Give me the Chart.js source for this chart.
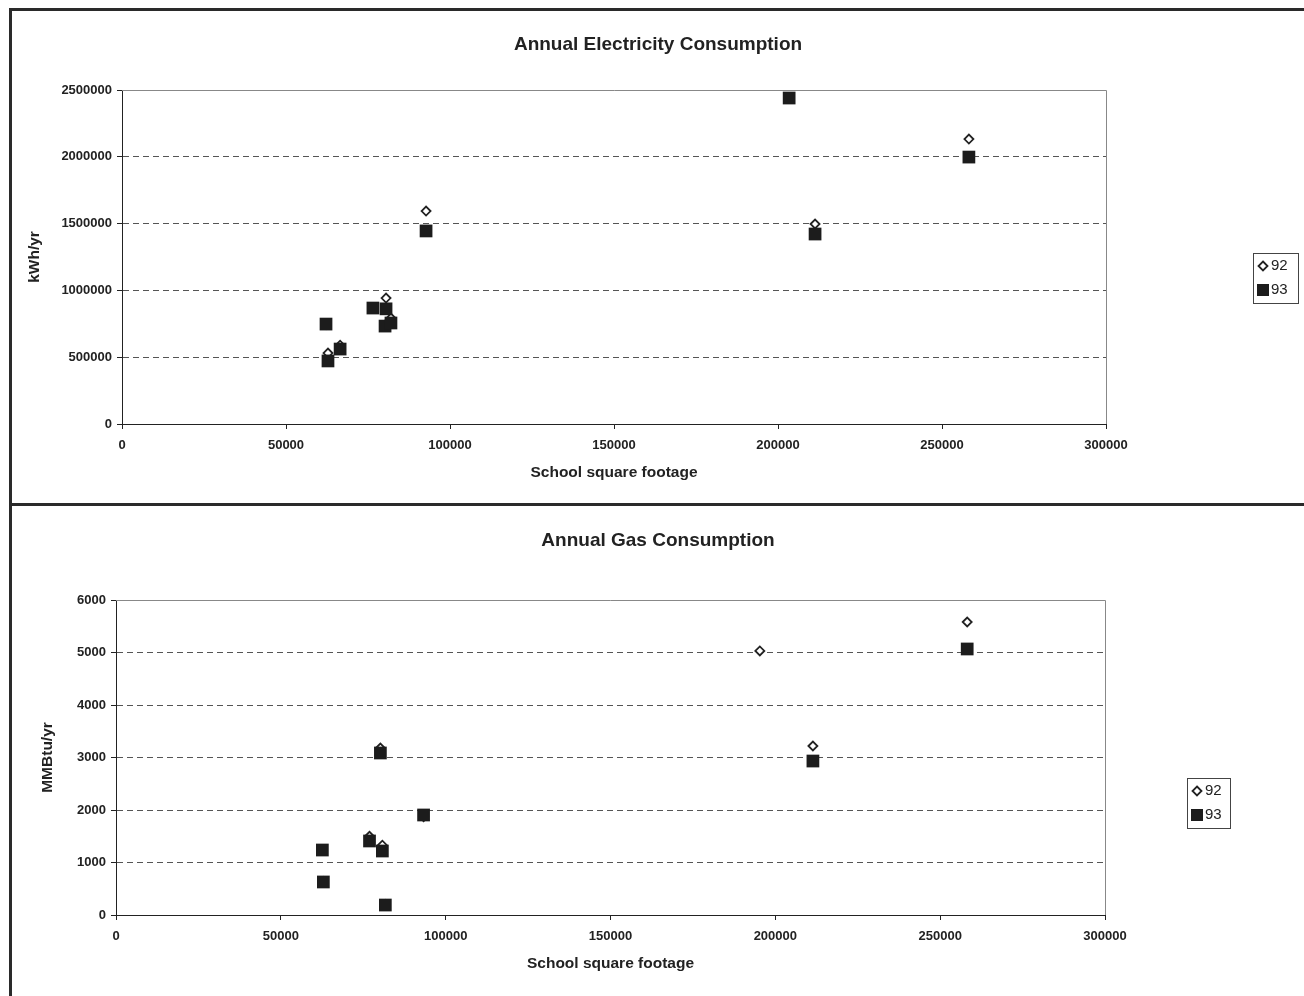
<!DOCTYPE html>
<html>
<head>
<meta charset="utf-8">
<title>Annual Electricity and Gas Consumption</title>
<script src="https://cdn.jsdelivr.net/npm/chart.js@4.4.1/dist/chart.umd.min.js"></script>
<style>
  body { margin: 0; background: #fff; }
  #page { position: relative; width: 1304px; height: 996px; overflow: hidden; }
  .frame { position: absolute; background: #2a2a2a; }
  canvas { position: absolute; }
</style>
</head>
<body>
<div id="page">
  <div class="frame" style="left:9px;top:8px;width:1295px;height:3px"></div>
  <div class="frame" style="left:9px;top:8px;width:3px;height:988px"></div>
  <div class="frame" style="left:9px;top:503px;width:1295px;height:3px"></div>
  <canvas id="elecChart" width="1292" height="492" style="left:12px;top:11px"></canvas>
  <canvas id="gasChart" width="1292" height="490" style="left:12px;top:506px"></canvas>
</div>
<script>
// electricity, kWh/yr
const elecSqft = [62200, 62800, 66500, 76500, 80200, 80500, 82000, 92700, 203400, 211300, 258200];
const elec92 = [745000, 531000, 590000, 870000, 740000, 943000, 793000, 1594000, null, 1497000, 2133000];
const elec93 = [748000, 472000, 561000, 868000, 733000, 862000, 756000, 1445000, 2440000, 1422000, 1998000];

// gas, MMBtu/yr
const gasSqft = [62600, 62900, 76900, 80200, 80800, 81700, 93300, 195300, 211400, 258200];
const gas92 = [1240, 640, 1500, 3181, 1330, 200, 1870, 5029, 3219, 5581];
const gas93 = [1238, 629, 1410, 3086, 1219, 190, 1905, null, 2933, 5067];

const seriesLabels = ["92", "93"];
const xTicks = { min: 0, max: 300000, step: 50000 };
const elecTicks = { min: 0, max: 2500000, step: 500000 };
const gasTicks = { min: 0, max: 6000, step: 1000 };

const FONT = "'Liberation Sans', Arial, Helvetica, sans-serif";
Chart.defaults.font.family = FONT;
Chart.defaults.color = "#222";

function points(xs, ys) {
  return xs.map((x, i) => ({ x: x, y: ys[i] })).filter((p) => p.y !== null);
}

// solid grey line on top and right of the plot area
const plotFrame = {
  id: "plotFrame",
  beforeDatasetsDraw(chart) {
    const { ctx, chartArea } = chart;
    ctx.save();
    ctx.strokeStyle = "#888";
    ctx.lineWidth = 1;
    ctx.beginPath();
    ctx.moveTo(chartArea.left, chartArea.top + 0.5);
    ctx.lineTo(chartArea.right + 0.5, chartArea.top + 0.5);
    ctx.lineTo(chartArea.right + 0.5, chartArea.bottom);
    ctx.stroke();
    ctx.restore();
  },
};

// boxed legend like the old spreadsheet one
const boxLegend = {
  id: "boxLegend",
  afterDraw(chart, args, opts) {
    const ctx = chart.ctx;
    ctx.save();
    ctx.strokeStyle = "#444";
    ctx.lineWidth = 1;
    ctx.strokeRect(opts.x + 0.5, opts.y + 0.5, opts.w, opts.h);
    ctx.font = "15px " + FONT;
    ctx.textBaseline = "middle";
    chart.data.datasets.forEach((ds, i) => {
      const cx = opts.x + 10;
      const cy = opts.y + 13 + i * 24;
      ctx.beginPath();
      if (ds.pointStyle === "rectRot") {
        const r = 4.5;
        ctx.moveTo(cx, cy - r);
        ctx.lineTo(cx + r, cy);
        ctx.lineTo(cx, cy + r);
        ctx.lineTo(cx - r, cy);
        ctx.closePath();
        ctx.fillStyle = ds.backgroundColor;
        ctx.fill();
        ctx.lineWidth = ds.borderWidth;
        ctx.strokeStyle = ds.borderColor;
        ctx.stroke();
      } else {
        ctx.fillStyle = ds.backgroundColor;
        ctx.fillRect(cx - 6, cy - 6, 12, 12);
      }
      ctx.fillStyle = "#222";
      ctx.fillText(ds.label, opts.x + 18, cy);
    });
    ctx.restore();
  },
};

function makeChart(id, o) {
  const ctx = document.getElementById(id).getContext("2d");
  return new Chart(ctx, {
    type: "scatter",
    data: {
      datasets: [
        {
          label: seriesLabels[0],
          data: points(o.xs, o.y92),
          pointStyle: "rectRot",
          pointRadius: 4.5,
          pointHoverRadius: 4.5,
          backgroundColor: "#fff",
          borderColor: "#222",
          borderWidth: 1.8,
          order: 1,
        },
        {
          label: seriesLabels[1],
          data: points(o.xs, o.y93),
          pointStyle: "rect",
          pointRadius: 9,
          pointHoverRadius: 9,
          backgroundColor: "#1c1c1c",
          borderColor: "#1c1c1c",
          borderWidth: 0,
          order: 0,
        },
      ],
    },
    options: {
      responsive: false,
      animation: false,
      events: [],
      layout: { padding: 0 },
      plugins: {
        legend: { display: false },
        tooltip: { enabled: false },
        title: {
          display: true,
          text: o.title,
          color: "#222",
          font: { size: 19, weight: "bold" },
          padding: o.titlePad,
        },
        boxLegend: o.legend,
      },
      scales: {
        x: {
          type: "linear",
          min: xTicks.min,
          max: xTicks.max,
          afterFit: (scale) => { scale.height = o.xHeight; },
          ticks: {
            stepSize: xTicks.step,
            maxRotation: 0,
            padding: 9,
            color: "#222",
            font: { size: 13, weight: "bold" },
            callback: (v) => v,
          },
          grid: { drawOnChartArea: false, drawTicks: true, tickLength: 5, tickColor: "#222" },
          border: { display: true, color: "#222", width: 1 },
          title: {
            display: true,
            text: "School square footage",
            color: "#222",
            font: { size: 15.5, weight: "bold" },
            padding: { top: 0, bottom: o.xTitlePad },
          },
        },
        y: {
          type: "linear",
          min: o.yTicks.min,
          max: o.yTicks.max,
          afterFit: (scale) => { scale.width = o.yWidth; },
          ticks: {
            stepSize: o.yTicks.step,
            padding: 5,
            color: "#222",
            font: { size: 13, weight: "bold" },
            callback: (v) => v,
          },
          grid: {
            color: (c) => (c.tick && c.tick.value === o.yTicks.max ? "rgba(0,0,0,0)" : "#555"),
            lineWidth: 1,
            drawTicks: true,
            tickLength: 5,
            tickColor: "#222",
          },
          border: { display: true, color: "#222", width: 1, dash: [6, 4] },
          title: {
            display: true,
            text: o.yTitle,
            color: "#222",
            font: { size: 15.5, weight: "bold" },
            padding: { top: o.yTitlePad, bottom: 0 },
          },
        },
        // empty right-hand axis, only keeps room for the legend
        // so the title stays centred on the whole panel
        spacer: {
          type: "linear",
          position: "right",
          afterFit: (scale) => { scale.width = o.padRight; },
          ticks: { display: false },
          grid: { display: false },
          border: { display: false },
        },
      },
    },
    plugins: [plotFrame, boxLegend],
  });
}

makeChart("elecChart", {
  title: "Annual Electricity Consumption",
  xs: elecSqft,
  y92: elec92,
  y93: elec93,
  yTicks: elecTicks,
  yTitle: "kWh/yr",
  padRight: 198,
  titlePad: { top: 22.6, bottom: 33.6 },
  xHeight: 79,
  xTitlePad: 20.7,
  yWidth: 110,
  yTitlePad: 13.7,
  legend: { x: 1241, y: 242, w: 45, h: 50 },
});

makeChart("gasChart", {
  title: "Annual Gas Consumption",
  xs: gasSqft,
  y92: gas92,
  y93: gas93,
  yTicks: gasTicks,
  yTitle: "MMBtu/yr",
  padRight: 199,
  titlePad: { top: 23.6, bottom: 47.6 },
  xHeight: 81,
  xTitlePad: 22.7,
  yWidth: 104,
  yTitlePad: 26.7,
  legend: { x: 1175, y: 272, w: 43, h: 50 },
});
</script>
</body>
</html>
